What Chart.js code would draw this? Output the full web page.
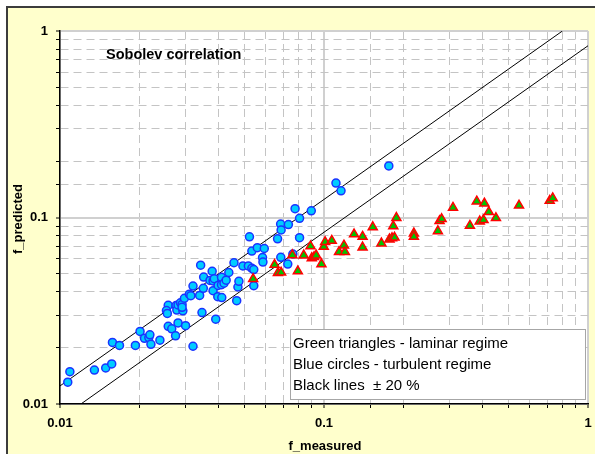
<!DOCTYPE html>
<html>
<head>
<meta charset="utf-8">
<script src="https://cdn.jsdelivr.net/npm/chart.js@4/dist/chart.umd.min.js"></script>
<style>
  body { margin: 0; background: #fff; overflow: hidden; }
  #frame {
    position: absolute; left: 6px; top: 6px; width: 600px; height: 460px;
    background: #ffffcc; border-top: 2px solid #3c3c3c; border-left: 2px solid #3c3c3c;
  }
  #chart { position: absolute; left: 0; top: 0; }
</style>
</head>
<body>
<div id="frame"></div>
<canvas id="chart" width="595" height="454"></canvas>
<script>
// Blue circles - turbulent regime
const circleX = [
  0.0107, 0.0109, 0.0135, 0.0149, 0.0157, 0.0158, 0.0168, 0.0193, 0.0201, 0.0209,
  0.0217, 0.0219, 0.0221, 0.0239, 0.0257, 0.0253, 0.0255, 0.0257, 0.0265, 0.0274,
  0.028, 0.0275, 0.0277, 0.028, 0.0286, 0.029, 0.0292, 0.0296, 0.0299, 0.0309,
  0.0313, 0.0319, 0.0319, 0.0338, 0.0341, 0.0345, 0.0349, 0.035, 0.037, 0.0377,
  0.038, 0.038, 0.0384, 0.0389, 0.0396, 0.0397, 0.0409, 0.0409, 0.041, 0.0418,
  0.0426, 0.0436, 0.0456, 0.0467, 0.0472, 0.0476, 0.0493, 0.0517, 0.0522, 0.0533,
  0.0542, 0.0533, 0.0542, 0.0559, 0.0585, 0.0587, 0.0594, 0.0667, 0.0685, 0.0688,
  0.0686, 0.0733, 0.0729, 0.0762, 0.0777, 0.0808, 0.0808, 0.0895, 0.111, 0.116,
  0.176, 0.029,
];
const circleY = [
  0.0131, 0.0149, 0.0152, 0.0156, 0.0164, 0.0214, 0.0206, 0.0206, 0.0245, 0.0225,
  0.0227, 0.0235, 0.0209, 0.022, 0.0338, 0.0317, 0.0306, 0.0261, 0.0253, 0.0232,
  0.0272, 0.0337, 0.0319, 0.034, 0.0349, 0.0342, 0.0316, 0.0369, 0.0263, 0.0388,
  0.0381, 0.0429, 0.0204, 0.0382, 0.0555, 0.0309, 0.0417, 0.0479, 0.046, 0.0515,
  0.0457, 0.0405, 0.047, 0.0285, 0.0376, 0.0432, 0.0436, 0.0478, 0.0372, 0.0444,
  0.0461, 0.0507, 0.0572, 0.0358, 0.0424, 0.0455, 0.055, 0.055, 0.0788, 0.0534,
  0.0526, 0.0661, 0.0431, 0.0689, 0.061, 0.0577, 0.0682, 0.0769, 0.0923, 0.0857,
  0.0612, 0.0917, 0.0563, 0.0637, 0.1115, 0.099, 0.0779, 0.1086, 0.153, 0.139,
  0.189, 0.033,
];

// Green triangles - laminar regime
const triangleX = [
  0.0539, 0.065, 0.0669, 0.0688, 0.0759, 0.0796, 0.0838, 0.0889, 0.0899, 0.0917,
  0.0934, 0.0978, 0.0998, 0.101, 0.107, 0.114, 0.119, 0.12, 0.13, 0.14,
  0.14, 0.153, 0.165, 0.177, 0.181, 0.185, 0.183, 0.188, 0.219, 0.219,
  0.27, 0.274, 0.279, 0.308, 0.357, 0.379, 0.405, 0.421, 0.389, 0.402,
  0.448, 0.548, 0.716, 0.735,
];
const triangleY = [
  0.0468, 0.0558, 0.0504, 0.0507, 0.0629, 0.0515, 0.0627, 0.0701, 0.0606, 0.0614,
  0.0627, 0.0563, 0.0697, 0.0739, 0.0751, 0.0653, 0.0709, 0.0653, 0.0813, 0.0789,
  0.0692, 0.0889, 0.0727, 0.0764, 0.0776, 0.0781, 0.09, 0.0996, 0.0823, 0.0789,
  0.0846, 0.0958, 0.0982, 0.113, 0.0904, 0.122, 0.119, 0.107, 0.0954, 0.097,
  0.0994, 0.116, 0.123, 0.127,
];

// Black lines +/- 20 % (end points)
const upperLineX = [0.008, 0.8];
const upperLineY = [0.01, 1];
const lowerLineX = [0.012, 1.2];
const lowerLineY = [0.01, 1];

const axisMin = 0.01;
const axisMax = 1;
const tickLabels = [0.01, 0.1, 1];

const legendLines = [
  "Green triangles - laminar regime",
  "Blue circles - turbulent regime",
  "Black lines  \u00b1 20 %",
];

function toPoints(xs, ys) {
  return xs.map((x, i) => ({ x: x, y: ys[i] }));
}

function isMajor(v) {
  if (v === undefined) return false;
  const l = Math.log10(v);
  return Math.abs(l - Math.round(l)) < 1e-6;
}

function labelFor(v) {
  const hit = tickLabels.find((t) => Math.abs(t - v) < 1e-9);
  return hit !== undefined ? String(hit) : "";
}

const gridOpts = {
  color: (c) => (c.tick && isMajor(c.tick.value) ? "#d0d0d0" : "#c4c4c4"),
  lineWidth: (c) => (c.tick && isMajor(c.tick.value) ? 2 : 1),
  tickColor: "#000",
  tickLength: 4,
  tickWidth: 1,
};
const borderOpts = {
  color: "#000",
  width: 1.5,
  dash: (c) => (c.tick && !isMajor(c.tick.value) ? [8, 5] : []),
};
const tickFont = { family: "'Liberation Sans', Arial, sans-serif", size: 13, weight: "bold" };

// Plot background, titles and the text box
const decorPlugin = {
  id: "decor",
  beforeDraw(chart) {
    const { ctx, chartArea: a } = chart;
    ctx.save();
    ctx.fillStyle = "#fff";
    ctx.fillRect(a.left, a.top, a.right - a.left, a.bottom - a.top);
    ctx.restore();
  },
  afterDatasetsDraw(chart) {
    const { ctx } = chart;
    ctx.save();
    ctx.fillStyle = "#000";
    ctx.font = "bold 14.5px 'Liberation Sans', Arial, sans-serif";
    ctx.textBaseline = "alphabetic";
    ctx.textAlign = "left";
    ctx.fillText("Sobolev correlation", 106, 59);

    // text box
    ctx.fillStyle = "#fff";
    ctx.fillRect(290, 329, 295, 70);
    ctx.strokeStyle = "#a6a6a6";
    ctx.lineWidth = 1;
    ctx.strokeRect(290.5, 329.5, 295, 70);
    ctx.fillStyle = "#000";
    ctx.font = "15px 'Liberation Sans', Arial, sans-serif";
    legendLines.forEach((t, i) => {
      ctx.fillText(t, 293, 348 + i * 21.2);
    });

    // axis titles
    ctx.font = "bold 13px 'Liberation Sans', Arial, sans-serif";
    ctx.textAlign = "center";
    ctx.fillText("f_measured", 325, 450);
    ctx.translate(22, 219);
    ctx.rotate(-Math.PI / 2);
    ctx.fillText("f_predicted", 0, 0);
    ctx.restore();
  },
};

const ctx = document.getElementById("chart").getContext("2d");
new Chart(ctx, {
  type: "scatter",
  data: {
    datasets: [
      {
        label: "Green triangles - laminar regime",
        data: toPoints(triangleX, triangleY),
        pointStyle: "triangle",
        pointRadius: 5.2,
        backgroundColor: "#00c400",
        borderColor: "#ff0000",
        borderWidth: 1.5,
        order: 0,
      },
      {
        label: "Blue circles - turbulent regime",
        data: toPoints(circleX, circleY),
        pointStyle: "circle",
        pointRadius: 4,
        backgroundColor: "#00ccff",
        borderColor: "#1a33ff",
        borderWidth: 1.5,
        order: 1,
      },
      {
        label: "+20 %",
        data: toPoints(upperLineX, upperLineY),
        showLine: true,
        pointRadius: 0,
        borderColor: "#000",
        borderWidth: 1,
        order: 2,
      },
      {
        label: "-20 %",
        data: toPoints(lowerLineX, lowerLineY),
        showLine: true,
        pointRadius: 0,
        borderColor: "#000",
        borderWidth: 1,
        order: 2,
      },
    ],
  },
  options: {
    responsive: false,
    animation: false,
    layout: { padding: { left: 0, top: 31, right: 7, bottom: 0 } },
    plugins: { legend: { display: false }, tooltip: { enabled: false } },
    scales: {
      x: {
        type: "logarithmic",
        position: "bottom",
        min: axisMin,
        max: axisMax,
        grid: gridOpts,
        border: borderOpts,
        ticks: {
          autoSkip: false,
          maxRotation: 0,
          padding: 8,
          color: "#000",
          font: tickFont,
          callback: (v) => labelFor(v),
        },
        afterFit: (s) => {
          s.height = 50;
          s.paddingLeft = 0;
          s.paddingRight = 0;
        },
      },
      y: {
        type: "logarithmic",
        position: "left",
        min: axisMin,
        max: axisMax,
        grid: gridOpts,
        border: borderOpts,
        ticks: {
          autoSkip: false,
          padding: 8,
          color: "#000",
          font: tickFont,
          callback: (v) => labelFor(v),
        },
        afterFit: (s) => { s.width = 60; },
      },
    },
  },
  plugins: [decorPlugin],
});
</script>
</body>
</html>
